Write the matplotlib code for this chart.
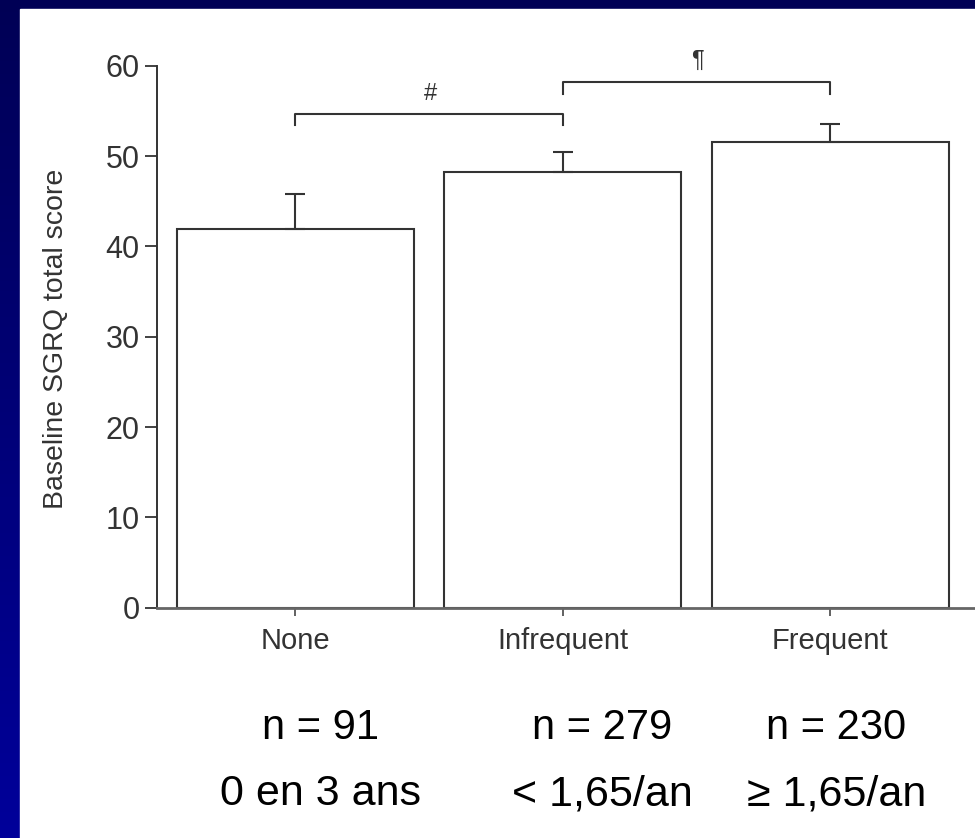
import numpy as np
import matplotlib
matplotlib.use('Agg')
import matplotlib.pyplot as plt
from matplotlib.patches import Rectangle

# data
groups = ['None', 'Infrequent', 'Frequent']
means = [41.9, 48.2, 51.6]
sem = [3.9, 2.3, 2.0]
n_labels = ['n = 91', 'n = 279', 'n = 230']
rate_labels = ['0 en 3 ans', '< 1,65/an', '\u2265 1,65/an']
yticks = [0, 10, 20, 30, 40, 50, 60]
# significance brackets: (start group, end group, bar height, leg bottom, mark)
brackets = [(0, 1, 54.6, 53.4, '#'), (1, 2, 58.2, 56.9, '\u00b6')]

sans = ['Liberation Sans', 'DejaVu Sans']
ink = '#333333'

fig = plt.figure(figsize=(9.75, 8.38), dpi=100)

# blue slide frame with a vertical gradient, white panel on top
bg = fig.add_axes([0, 0, 1, 1], zorder=-10)
grad = np.linspace(0, 1, 256).reshape(-1, 1)
top = np.array([0x00, 0x00, 0x55]) / 255
bot = np.array([0x00, 0x00, 0x9a]) / 255
img = top + (bot - top) * grad[..., None]
bg.imshow(img, aspect='auto', extent=[0, 1, 0, 1], origin='upper')
bg.add_patch(Rectangle((20 / 975, 0), 1, 1 - 9 / 838, color='white', zorder=2))
bg.set_xlim(0, 1)
bg.set_ylim(0, 1)
bg.axis('off')

ax = fig.add_axes([157 / 975, 230.3 / 838, 1 - 157 / 975, 542 / 838])
ax.patch.set_alpha(0)
x = np.arange(len(groups))
ax.bar(x, means, width=0.886, color='white', edgecolor=ink, linewidth=1.5, zorder=2)
ax.errorbar(x, means, yerr=[np.zeros(3), sem], fmt='none', ecolor=ink,
            elinewidth=1.5, capsize=7.5, capthick=1.5, zorder=3)

for a, b, h, leg, mark in brackets:
    ax.plot([a, a, b, b], [leg, h, h, leg], color=ink, lw=1.5, clip_on=False)
    ax.text((a + b) / 2 + 0.005, h + 2.3, mark, ha='center', va='center',
            fontsize=17, color=ink, family=sans, clip_on=False)

ax.set_xlim(-0.516, 2.542)
ax.set_ylim(0, 60)
ax.set_yticks(yticks)
ax.set_xticks(x)
ax.set_xticklabels(groups, family=sans, fontsize=21, color=ink)
for t in ax.get_yticklabels():
    t.set_family(sans)
    t.set_fontsize(22)
    t.set_color(ink)
ax.tick_params(axis='y', length=8.6, width=1.3, color=ink, pad=4)
ax.tick_params(axis='x', length=5.8, width=1.3, color='#555555', pad=8)
ax.spines['top'].set_visible(False)
ax.spines['right'].set_visible(False)
ax.spines['left'].set_color(ink)
ax.spines['left'].set_linewidth(1.4)
ax.spines['bottom'].set_color('#666666')
ax.spines['bottom'].set_linewidth(2.0)
ax.set_ylabel('Baseline SGRQ total score', family=sans, fontsize=20.5, color=ink)
ax.yaxis.set_label_coords(-0.108, 0.496)

# group sizes and exacerbation rates below the chart
label_x = [0.329, 0.618, 0.858]
for lx, n, r in zip(label_x, n_labels, rate_labels):
    fig.text(lx, 1 - 728 / 838, n, ha='center', va='center', fontsize=30,
             family=sans, color='black')
    fig.text(lx, 1 - 794 / 838, r, ha='center', va='center', fontsize=31,
             family=sans, color='black')

fig.savefig('out.png', dpi=100)
